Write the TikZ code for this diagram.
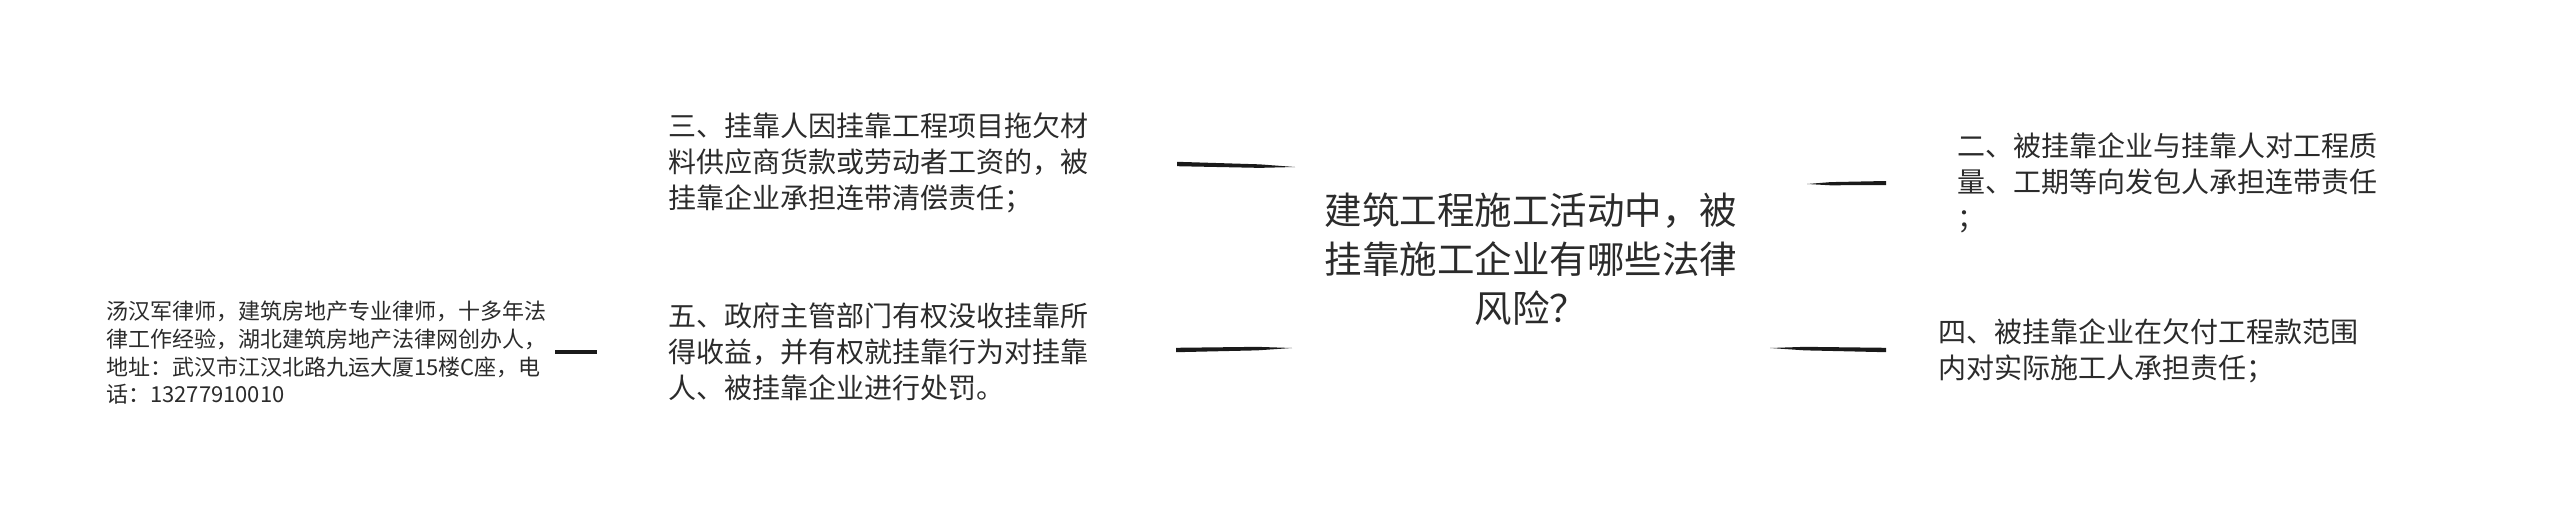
\documentclass[tikz,border=0pt]{standalone}
\usepackage{fontspec}
\setmainfont{Noto Sans CJK SC}
\usetikzlibrary{calc}
\definecolor{txt}{HTML}{2B2B2B}
\definecolor{ink}{HTML}{1A1A1A}
\tikzset{
  topic/.style={inner sep=0pt, anchor=west, align=left, text=txt},
  small/.style={topic, font=\fontsize{22}{27.7}\selectfont},
  mid/.style={topic, font=\fontsize{28}{36}\selectfont},
  root/.style={inner sep=0pt, align=center, text=txt, font=\fontsize{37.5}{49}\selectfont},
  brush/.style={fill=ink}
}
\newcommand{\brushstroke}[3]{% from, to, half-thickness at start
  \fill[brush] ($(#1)+(0,-#3)$) -- ($(#1)!0.7!(#2)+(0,-#3*0.8)$) -- (#2) -- ($(#1)!0.7!(#2)+(0,#3*0.8)$) -- ($(#1)+(0,#3)$) -- cycle;}
\begin{document}
\begin{tikzpicture}[x=1pt,y=-1pt]
\useasboundingbox (0,0) rectangle (2560,517);

\node[root] (center) at (1531,259) {建筑工程施工活动中，被\\挂靠施工企业有哪些法律\\风险？};

\node[mid] (n3) at (668,163) {三、挂靠人因挂靠工程项目拖欠材\\料供应商货款或劳动者工资的，被\\挂靠企业承担连带清偿责任；};
\node[mid] (n5) at (668,352) {五、政府主管部门有权没收挂靠所\\得收益，并有权就挂靠行为对挂靠\\人、被挂靠企业进行处罚。};
\node[small] (law) at (106,353) {汤汉军律师，建筑房地产专业律师，十多年法\\律工作经验，湖北建筑房地产法律网创办人，\\地址：武汉市江汉北路九运大厦15楼C座，电\\话：13277910010};

\node[mid] (n2) at (1957,183) {二、被挂靠企业与挂靠人对工程质\\量、工期等向发包人承担连带责任\\；};
\node[mid] (n4) at (1938,351) {四、被挂靠企业在欠付工程款范围\\内对实际施工人承担责任；};

% connector end points
\coordinate (c3a) at (1177,164);
\coordinate (c3b) at (1295,167);
\coordinate (c5a) at (1176,350);
\coordinate (c5b) at (1292,348);
\coordinate (cla) at (555,352);
\coordinate (clb) at (597,352);
\coordinate (c2a) at (1886,183);
\coordinate (c2b) at (1807,184);
\coordinate (c4a) at (1886,350);
\coordinate (c4b) at (1770,348);

\brushstroke{c3a}{c3b}{2.2}
\brushstroke{c5a}{c5b}{2.2}
\fill[brush] ($(cla)+(0,-1.8)$) rectangle ($(clb)+(0,1.8)$);
\brushstroke{c2a}{c2b}{2.0}
\brushstroke{c4a}{c4b}{2.2}
\end{tikzpicture}
\end{document}
